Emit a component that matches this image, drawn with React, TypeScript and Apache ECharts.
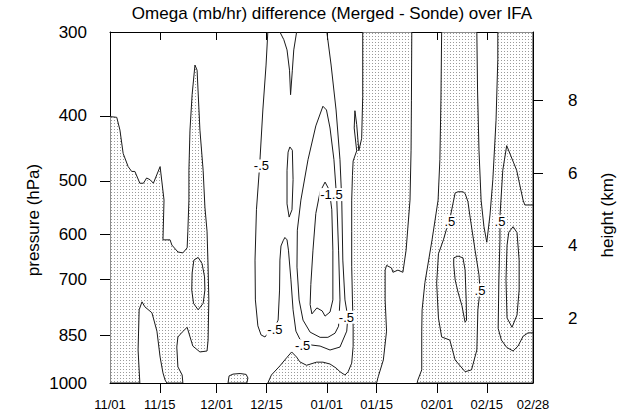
import React, { useEffect, useRef } from "react";
import * as echarts from "echarts";

type Pt = [number, number];

// x: days since 11/01 ; y: pressure (hPa)
const dayTickMarks = [14, 30, 44, 61, 75, 92, 106];
const dayLabelValues = [0, 14, 30, 44, 61, 75, 92, 106, 119];
const dayLabels = ["11/01", "11/15", "12/01", "12/15", "01/01", "01/15", "02/01", "02/15", "02/28"];
const pressureLabels = [300, 400, 500, 600, 700, 850, 1000];
const pressureTickMarks = [400, 500, 600, 700, 850];
const heightTicks = [2, 4, 6, 8];
const heightRange: Pt = [0.224, 9.885];

const TITLE = "Omega (mb/hr) difference (Merged - Sonde) over IFA";

// positive (shaded) regions, outlined by the zero contour
const shadedNov: Pt[] = [[0,401],[1.9,402],[2.8,420],[3.7,455],[5.1,476],[6.1,484],[7.0,484],[8.4,504],[9.4,504],[10.3,495],[11.3,498],[12.2,504],[14.1,476],[15.2,534],[14.9,612],[16.9,612],[17.4,623],[19.1,638],[20.5,640],[21.7,629],[21.9,594],[22.2,534],[22.2,482],[22.5,420],[23.1,372],[23.9,336],[24.5,342],[25.3,420],[26.2,482],[26.7,547],[27.3,594],[27.6,672],[27.8,752],[27.6,863],[27.3,896],[25.3,899],[23.3,881],[21.7,826],[20.3,840],[19.1,854],[18.8,884],[19.1,946],[20.3,973],[20.5,1000],[16.0,1000],[15.5,990],[14.9,966],[14.1,915],[13.2,837],[11.8,786],[9.8,770],[9.0,757],[8.2,778],[7.9,893],[8.4,1000],[0,1000]];
const shadedDecBlob: Pt[] = [[33.2,1000],[33.5,976],[34.6,970],[36.6,968],[38.3,971],[38.8,983],[38.5,1000]];
const shadedJan: Pt[] = [[44.4,1000],[45.4,973],[47.8,943],[49.7,917],[51.1,899],[52.5,915],[53.4,930],[55.3,941],[58.1,931],[59.9,931],[61.9,937],[63.6,950],[64.7,962],[66.1,973],[67.0,962],[68.0,934],[68.4,882],[68.4,823],[68.2,752],[68.0,670],[68.0,595],[68.0,534],[68.2,491],[68.4,467],[69.4,451],[68.7,417],[68.9,393],[69.4,412],[70.0,451],[70.8,432],[71.1,374],[71.1,300],[84.9,300],[84.8,379],[84.7,450],[84.4,534],[83.3,634],[82.4,684],[81.0,679],[79.6,684],[79.2,674],[77.8,668],[77.4,679],[77.4,752],[77.8,837],[76.9,924],[75.5,977],[75.0,1000]];
const shadedFeb: Pt[] = [[93.3,300],[93.1,379],[92.8,465],[92.3,534],[90.6,612],[88.6,708],[87.8,778],[87.7,837],[87.7,956],[86.6,990],[86.4,1000],[119,1000],[119,300],[109.1,300],[109.1,330],[108.6,406],[107.7,498],[106.9,562],[106.0,617],[105.2,585],[104.4,534],[103.8,450],[103.4,366],[103.2,300]];

// other contour lines
const posHalfNov: Pt[] = [[24.8,650],[25.9,664],[26.6,695],[26.7,727],[26.2,761],[24.8,778],[23.5,761],[23.0,727],[23.1,686],[23.6,656]];
const negHalf: Pt[] = [[44.4,300],[43.9,336],[43.0,392],[42.1,474],[41.2,552],[40.8,656],[40.9,752],[41.6,822],[42.5,848],[43.6,854],[44.4,843],[46.1,831],[47.3,806],[47.7,727],[47.8,656],[48.1,625],[48.7,614],[49.2,607],[49.8,612],[50.2,634],[50.9,702],[51.5,778],[52.3,837],[53.4,860],[54.9,872],[56.8,878],[59.1,881],[61.9,893],[64.7,884],[66.6,837],[66.9,798],[66.1,752],[65.5,656],[65.2,534],[64.7,465],[63.6,392],[62.2,336],[61.0,300]];
const negOne: Pt[] = [[59.9,387],[57.9,414],[55.7,465],[53.7,534],[52.7,592],[52.6,672],[53.2,752],[54.3,806],[56.3,840],[59.1,855],[61.3,855],[63.3,843],[64.3,823],[64.7,752],[64.3,634],[63.8,534],[63.0,465],[61.9,417],[60.9,392]];
const negOneHalf: Pt[] = [[60.5,502],[59.1,519],[57.9,559],[57.1,634],[56.5,713],[56.3,764],[56.8,789],[58.2,773],[59.7,781],[60.5,795],[61.9,784],[62.7,752],[62.7,634],[62.4,552],[61.7,516]];
const topTongue: Pt[] = [[47.8,300],[48.9,308],[49.8,319],[50.5,342],[50.8,372],[51.3,342],[51.7,319],[52.5,300]];
const thinLoop: Pt[] = [[50.6,445],[51.3,450],[51.5,498],[51.2,552],[50.4,566],[49.8,541],[49.8,482],[50.1,453]];
const posHalfFeb: Pt[] = [[95.6,570],[97.1,521],[97.9,519],[99.3,519],[99.9,522],[100.7,537],[101.3,566],[102.7,634],[103.8,690],[104.1,727],[103.5,778],[103.2,893],[101.7,956],[99.9,962],[97.1,924],[95.6,863],[93.3,854],[92.4,800],[91.9,710],[92.4,642],[93.8,612],[94.7,589]];
const posOneFeb: Pt[] = [[96.7,651],[97.9,647],[99.3,651],[99.9,679],[100.2,752],[100.3,806],[99.9,812],[99.0,767],[97.9,732],[97.1,702],[96.7,667]];
const posHalfLate: Pt[] = [[119,543],[116.7,543],[116.2,534],[114.4,482],[111.6,443],[110.5,482],[109.7,565],[109.7,612],[109.4,702],[109.2,829],[110.1,863],[111.6,885],[113.4,896],[114.8,881],[116.2,852],[117.6,842],[119,842]];
const posOneLate: Pt[] = [[113.4,585],[114.5,597],[115.1,656],[115.1,727],[114.5,792],[113.1,826],[111.7,800],[111.4,702],[111.7,623],[112.2,596]];

const contourLabels: [number, number, string][] = [
  [42.6, 475, "-.5"],
  [62.3, 524, "-1.5"],
  [46.4, 831, "-.5"],
  [54.2, 880, "-.5"],
  [66.5, 798, "-.5"],
  [95.6, 575, ".5"],
  [104.1, 727, ".5"],
  [109.7, 575, ".5"],
];

const FONT = '"Liberation Sans", Arial, Helvetica, sans-serif';

export default function App() {
  const ref = useRef<HTMLDivElement>(null);
  useEffect(() => {
    if (!ref.current) return;
    const chart = echarts.init(ref.current, undefined, { renderer: "svg" });

    const tile = document.createElement("canvas");
    tile.width = 3;
    tile.height = 3;
    const ctx = tile.getContext("2d")!;
    ctx.fillStyle = "#ffffff";
    ctx.fillRect(0, 0, 3, 3);
    ctx.fillStyle = "#9a9a9a";
    ctx.fillRect(0, 0, 1, 1);
    const pattern: any = { image: tile, repeat: "repeat", imageWidth: 3, imageHeight: 3 };

    const shaded = [shadedNov, shadedDecBlob, shadedJan, shadedFeb];
    const lines: { pts: Pt[]; closed: boolean }[] = [
      { pts: posHalfNov, closed: true },
      { pts: negHalf, closed: false },
      { pts: negOne, closed: true },
      { pts: negOneHalf, closed: true },
      { pts: topTongue, closed: false },
      { pts: thinLoop, closed: true },
      { pts: posHalfFeb, closed: true },
      { pts: posOneFeb, closed: true },
      { pts: posHalfLate, closed: false },
      { pts: posOneLate, closed: true },
    ];

    const axisLineStyle = { color: "#000", width: 1 };
    const labelStyle = { color: "#000", fontFamily: FONT };

    chart.setOption({
      animation: false,
      backgroundColor: "#fff",
      grid: { left: 110, top: 32, right: 90, bottom: 31, containLabel: false },
      xAxis: [
        {
          type: "value", min: 0, max: 119, position: "bottom",
          axisLine: { show: true, onZero: false, lineStyle: axisLineStyle },
          axisTick: { show: true, inside: false, length: 10, customValues: dayTickMarks, lineStyle: axisLineStyle },
          axisLabel: {
            show: true, customValues: dayLabelValues, margin: 15, fontSize: 13, ...labelStyle,
            formatter: (v: number) => dayLabels[dayLabelValues.indexOf(v)] ?? "",
          },
          splitLine: { show: false },
        },
        {
          type: "value", min: 0, max: 119, position: "top",
          axisLine: { show: true, onZero: false, lineStyle: axisLineStyle },
          axisTick: { show: true, inside: true, length: 8, customValues: dayTickMarks, lineStyle: axisLineStyle },
          axisLabel: { show: false },
          splitLine: { show: false },
        },
      ],
      yAxis: [
        {
          type: "log", logBase: 10, min: 300, max: 1000, inverse: true, position: "left",
          axisLine: { show: true, onZero: false, lineStyle: axisLineStyle },
          axisTick: { show: true, inside: false, length: 10, customValues: pressureTickMarks, lineStyle: axisLineStyle },
          axisLabel: {
            show: true, customValues: pressureLabels, margin: 23, fontSize: 17, ...labelStyle,
            formatter: (v: number) => String(Math.round(v)),
          },
          splitLine: { show: false },
        },
        {
          type: "value", min: heightRange[0], max: heightRange[1], position: "right",
          axisLine: { show: true, onZero: false, lineStyle: axisLineStyle },
          axisTick: { show: true, inside: false, length: 10, customValues: heightTicks, lineStyle: axisLineStyle },
          axisLabel: { show: true, customValues: heightTicks, margin: 35, fontSize: 17, ...labelStyle },
          splitLine: { show: false },
        },
      ],
      graphic: [
        { type: "text", x: 332, y: 13, style: { text: TITLE, fill: "#000", font: `17px ${FONT}`, align: "center", verticalAlign: "middle" } },
        { type: "text", x: 33, y: 220, rotation: Math.PI / 2, style: { text: "pressure (hPa)", fill: "#000", font: `17px ${FONT}`, align: "center", verticalAlign: "middle" } },
        { type: "text", x: 607, y: 215, rotation: Math.PI / 2, style: { text: "height (km)", fill: "#000", font: `17px ${FONT}`, align: "center", verticalAlign: "middle" } },
      ],
      series: [
        {
          type: "custom", xAxisIndex: 0, yAxisIndex: 0, clip: true, silent: true, z: 2,
          data: shaded.map((s) => s[0]),
          renderItem: (params: any, api: any) => {
            const pts = shaded[params.dataIndex].map((p) => api.coord(p));
            return { type: "polygon", shape: { points: pts }, style: { fill: pattern, stroke: "#1a1a1a", lineWidth: 1 } };
          },
        },
        {
          type: "custom", xAxisIndex: 0, yAxisIndex: 0, clip: true, silent: true, z: 3,
          data: lines.map((l) => l.pts[0]),
          renderItem: (params: any, api: any) => {
            const l = lines[params.dataIndex];
            const pts = l.pts.map((p) => api.coord(p));
            if (l.closed) pts.push(pts[0]);
            return { type: "polyline", shape: { points: pts }, style: { fill: null, stroke: "#1a1a1a", lineWidth: 1 } };
          },
        },
        {
          type: "custom", xAxisIndex: 0, yAxisIndex: 0, clip: false, silent: true, z: 4,
          data: contourLabels.map((l) => [l[0], l[1]]),
          renderItem: (params: any, api: any) => {
            const l = contourLabels[params.dataIndex];
            const [x, y] = api.coord([l[0], l[1]]);
            return {
              type: "text", x, y,
              style: { text: l[2], fill: "#000", font: `13px ${FONT}`, align: "center", verticalAlign: "middle", backgroundColor: "#fff", padding: [0, 1] },
            };
          },
        },
      ],
    });
    return () => chart.dispose();
  }, []);
  return <div ref={ref} style={{ position: "fixed", left: 0, top: 0, width: 623, height: 414 }} />;
}
